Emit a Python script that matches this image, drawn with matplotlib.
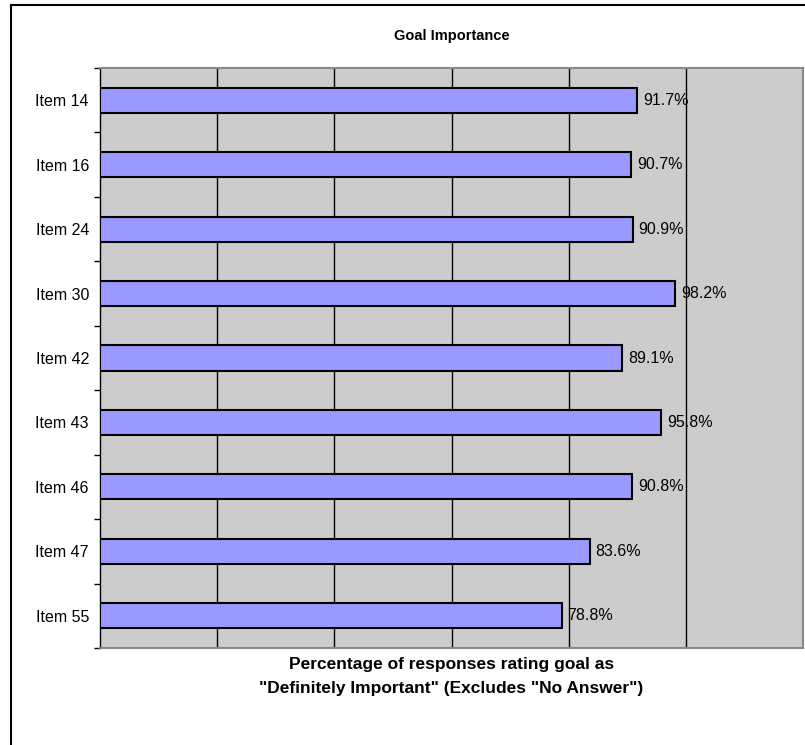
import matplotlib
matplotlib.use("Agg")
import matplotlib.pyplot as plt
from matplotlib.lines import Line2D
import numpy as np

plt.rcParams['font.family'] = ['Liberation Sans', 'DejaVu Sans']

items = ["Item 14", "Item 16", "Item 24", "Item 30", "Item 42",
         "Item 43", "Item 46", "Item 47", "Item 55"]
pct_definitely_important = [91.7, 90.7, 90.9, 98.2, 89.1, 95.8, 90.8, 83.6, 78.8]
x_gridlines = [20, 40, 60, 80, 100]

W, H = 805, 745
fig = plt.figure(figsize=(W / 100, H / 100), dpi=100)

# outer chart frame (left and top edges visible)
fig.add_artist(Line2D([11 / W, 11 / W], [0, 1 - 5 / H], color="black", lw=1.5))
fig.add_artist(Line2D([11 / W, 1], [1 - 5 / H, 1 - 5 / H], color="black", lw=1.5))

left, right, top, bottom = 100, 803, 68, 648
ax = fig.add_axes([left / W, 1 - bottom / H, (right - left) / W, (bottom - top) / H])
ax.set_facecolor("#CCCCCC")

y = np.arange(len(items))
ax.barh(y, pct_definitely_important, height=0.39, color="#9999FF",
        edgecolor="black", linewidth=1.5, zorder=3)

for yi, v in zip(y, pct_definitely_important):
    ax.text(v + 1.0, yi, f"{v:.1f}%", va="center", ha="left",
            fontsize=11.5, color="black", zorder=4)

ax.set_xlim(0, 120)
ax.set_ylim(len(items) - 0.5, -0.5)

for gx in x_gridlines:
    ax.axvline(gx, color="black", lw=1.0, zorder=1)

ax.set_xticks([])
ax.set_yticks(np.arange(-0.5, len(items), 1.0))
ax.set_yticklabels([])
ax.set_yticks(y, minor=True)
ax.set_yticklabels(items, minor=True, fontsize=11.5)
ax.tick_params(axis="y", which="major", length=4, width=1, direction="out")
ax.tick_params(axis="y", which="minor", length=0, pad=8)

for side in ["top", "right", "bottom"]:
    ax.spines[side].set_color("#888888")
    ax.spines[side].set_linewidth(1.5)
ax.spines["left"].set_color("black")
ax.spines["left"].set_linewidth(1.0)

fig.text((left + right) / 2 / W, 1 - 36 / H, "Goal Importance",
         ha="center", va="center", fontsize=10.5, fontweight="bold")
fig.text((left + right) / 2 / W, 1 - 665 / H,
         "Percentage of responses rating goal as",
         ha="center", va="center", fontsize=12.5, fontweight="bold")
fig.text((left + right) / 2 / W, 1 - 689 / H,
         "\"Definitely Important\" (Excludes \"No Answer\")",
         ha="center", va="center", fontsize=12.5, fontweight="bold")

fig.savefig("out.png", dpi=100)
